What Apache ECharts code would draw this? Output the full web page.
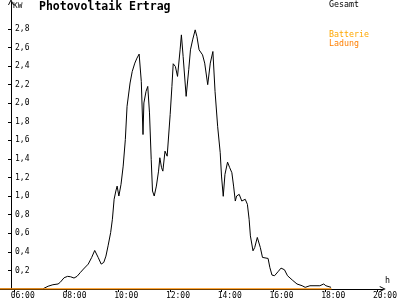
<!DOCTYPE html>
<html>
<head>
<meta charset="utf-8">
<script src="https://cdn.jsdelivr.net/npm/echarts@6/dist/echarts.min.js"></script>
<style>html,body{margin:0;padding:0;background:#fff}#c{width:400px;height:300px}</style>
</head>
<body>
<div id="c"></div>
<script>
// ---- data ----
const gesamtTimes = ["05:25","07:05","07:18","07:29","07:41","07:46","07:55","08:03","08:10","08:18","08:25","08:33","08:40","08:51","08:59","09:06","09:14","09:21","09:27","09:32","09:37","09:43","09:47","09:51","09:55","09:58","10:02","10:07","10:12","10:17","10:21","10:28","10:33","10:39","10:44","10:49","10:54","10:58","11:00","11:05","11:09","11:13","11:17","11:20","11:24","11:29","11:34","11:37","11:41","11:44","11:49","11:54","11:58","12:01","12:05","12:08","12:13","12:18","12:24","12:27","12:31","12:38","12:44","12:48","12:53","12:59","13:03","13:08","13:16","13:21","13:28","13:34","13:40","13:45","13:51","13:57","14:00","14:04","14:08","14:14","14:19","14:24","14:28","14:32","14:35","14:41","14:47","14:55","15:00","15:04","15:07","15:13","15:17","15:23","15:30","15:35","15:48","15:52","15:57","16:03","16:11","16:18","16:26","16:33","16:44","16:55","17:07","17:14","17:25","17:48","17:57","18:02","18:06","18:14"];
const gesamtValues = [0,0,0.03,0.046,0.054,0.072,0.121,0.136,0.132,0.118,0.136,0.179,0.215,0.268,0.34,0.415,0.34,0.268,0.286,0.354,0.465,0.608,0.751,0.966,1.055,1.108,1.001,1.127,1.323,1.609,1.967,2.218,2.342,2.432,2.486,2.529,2.235,1.663,2.003,2.128,2.181,1.896,1.395,1.055,1.001,1.108,1.269,1.413,1.306,1.269,1.484,1.43,1.43,1.88,2.181,2.425,2.396,2.289,2.575,2.736,2.503,2.074,2.361,2.575,2.682,2.79,2.718,2.575,2.521,2.432,2.2,2.432,2.557,2.128,1.752,1.467,1.216,0.998,1.234,1.366,1.306,1.252,1.108,0.947,1.001,1.019,0.947,0.966,0.912,0.751,0.572,0.411,0.447,0.555,0.447,0.34,0.329,0.233,0.15,0.143,0.186,0.225,0.207,0.143,0.097,0.054,0.035,0.018,0.035,0.035,0.054,0.035,0.018,0.018];
const batterieTimes = ["05:25","18:15"];
const batterieValues = [0,0];
const ladungTimes = ["05:25","18:15"];
const ladungValues = [0,0];
const xTickHours = [6,8,10,12,14,16,18,20];
const xTickLabels = ["06:00","08:00","10:00","12:00","14:00","16:00","18:00","20:00"];
const yTickValues = [0.2,0.4,0.6,0.8,1.0,1.2,1.4,1.6,1.8,2.0,2.2,2.4,2.6,2.8];
const yTickLabels = ["0,2","0,4","0,6","0,8","1,0","1,2","1,4","1,6","1,8","2,0","2,2","2,4","2,6","2,8"];

const toH = s => { const p = s.split(":"); return +p[0] + (+p[1]) / 60; };
const pairs = (ts, vs) => ts.map((t, i) => [toH(t), vs[i]]);
const LABEL_SHIFT = 0.149;
const xLabelValues = xTickHours.map(h => h - LABEL_SHIFT);
const FONT = "DejaVu Sans Mono";
const arrowPath = 'path://M0,10 L5,0 L10,10 L8.4,10 L5,3.2 L1.6,10 Z';

const chart = echarts.init(document.getElementById('c'), null, {renderer: 'canvas'});
chart.setOption({
  animation: false,
  backgroundColor: '#fff',
  title: {
    text: 'Photovoltaik Ertrag', left: 39, top: 1, padding: 0,
    textStyle: {fontFamily: FONT, fontWeight: 'bold', fontSize: 11.5, color: '#000'}
  },
  graphic: [
    {type: 'text', left: 13, top: 2, style: {text: 'KW', font: '7.8px "DejaVu Sans Mono"', fill: '#000'}},
    {type: 'text', left: 329, top: 1, style: {text: 'Gesamt', font: '8.3px "DejaVu Sans Mono"', fill: '#000'}},
    {type: 'text', left: 329, top: 31, style: {text: 'Batterie', font: '8.3px "DejaVu Sans Mono"', fill: '#FFA800'}},
    {type: 'text', left: 329, top: 40, style: {text: 'Ladung', font: '8.3px "DejaVu Sans Mono"', fill: '#FF7F00'}},
    {type: 'text', left: 385, top: 277, style: {text: 'h', font: '8.3px "DejaVu Sans Mono"', fill: '#000'}}
  ],
  grid: {left: 0, right: 3, top: 2, bottom: 10, containLabel: false},
  xAxis: {
    type: 'value', min: 5.44, max: 20.23,
    axisLine: {show: true, lineStyle: {color: '#000', width: 1}, symbol: ['none', arrowPath], symbolSize: [8, 6]},
    axisTick: {show: true, length: 3, lineStyle: {color: '#000'}, customValues: xTickHours},
    axisLabel: {
      customValues: xLabelValues, align: 'left', margin: 3,
      fontFamily: FONT, fontSize: 8, color: '#000',
      formatter: v => { const i = xLabelValues.findIndex(u => Math.abs(u - v) < 0.01); return i >= 0 ? xTickLabels[i] : ''; }
    },
    splitLine: {show: false}
  },
  yAxis: {
    type: 'value', min: 0, max: 3.09, offset: -11,
    axisLine: {show: true, lineStyle: {color: '#000', width: 1}, symbol: ['none', arrowPath], symbolSize: [8, 6]},
    axisTick: {show: true, length: 3, lineStyle: {color: '#000'}, customValues: yTickValues},
    axisLabel: {
      inside: true, margin: 4, customValues: yTickValues,
      fontFamily: FONT, fontSize: 8, color: '#000',
      formatter: v => { const i = yTickValues.findIndex(u => Math.abs(u - v) < 0.001); return i >= 0 ? yTickLabels[i] : ''; }
    },
    splitLine: {show: false}
  },
  series: [
    {name: 'Gesamt', type: 'line', data: pairs(gesamtTimes, gesamtValues), showSymbol: false, z: 3,
     lineStyle: {color: '#000', width: 1}, itemStyle: {color: '#000'}},
    {name: 'Batterie', type: 'line', data: pairs(batterieTimes, batterieValues), showSymbol: false, z: 4,
     lineStyle: {color: '#FFA800', width: 1}, itemStyle: {color: '#FFA800'}},
    {name: 'Ladung', type: 'line', data: pairs(ladungTimes, ladungValues), showSymbol: false, z: 5,
     lineStyle: {color: '#FF7F00', width: 1.2}, itemStyle: {color: '#FF7F00'}}
  ]
});
</script>
</body>
</html>
